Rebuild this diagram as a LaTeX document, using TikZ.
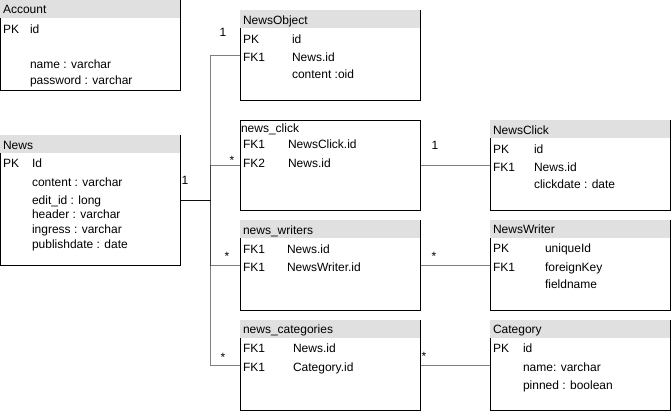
\documentclass[tikz,border=0pt]{standalone}
\usepackage{fontspec}
\setmainfont{Liberation Sans}
\usetikzlibrary{calc}
\definecolor{hdrgray}{HTML}{E0E0E0}
\newcommand\erbox[4]{%
  \node[tbl, minimum height=#4*0.75pt] (#1) at (#2,#3) {};
  \fill[hdrgray] (#1.north west) rectangle ($(#1.north east)+(0,18)$);
  \draw[edge] ($(#1.north west)+(0,18)$) -- (#1.south west) -- (#1.south east) -- (#1.north east);
}
\begin{document}
\begin{tikzpicture}[x=0.75pt,y=-0.75pt,
  every node/.style={font=\fontsize{9}{11}\selectfont, inner sep=0pt, outer sep=0pt},
  tbl/.style={anchor=north west, minimum width=135pt},
  edge/.style={draw=black, line width=0.75pt, line join=miter},
  txt/.style={anchor=base west},
  card/.style={anchor=base},
  conn/.style={draw=black, draw opacity=0.5, line width=0.75pt}]
\useasboundingbox (0,0) rectangle (671,412);
\fill[white] (0,0) rectangle (671,412);

% ---- tables ----
\erbox{Account}{0}{0}{90}
\erbox{News}{0}{135}{130}
\erbox{NewsObject}{240}{10}{90}
\node[tbl, minimum height=67.5pt, edge] (NewsClickJ) at (240,120) {};
\erbox{NewsWritersJ}{240}{220}{90}
\erbox{NewsCatJ}{240}{320}{90}
\erbox{NewsClick}{490}{120}{90}
\erbox{NewsWriter}{490}{220}{90}
\erbox{Category}{490}{320}{90}

% ---- Account ----
\node[txt] (a0) at (3,13.5) {Account};
\node[txt] (a1) at (3,33) {PK};
\node[txt] (a2) at (30,33) {id};
\node[txt] (a3) at (30,68) {name : varchar};
\node[txt] (a4) at (30,84) {password : varchar};

% ---- News ----
\node[txt] (n0) at (3,149) {News};
\node[txt] (n1) at (3,167) {PK};
\node[txt] (n2) at (32,167) {Id};
\node[txt] (n3) at (32,186) {content : varchar};
\node[txt] (n4) at (32,204) {edit\_id : long};
\node[txt] (n5) at (32,218) {header : varchar};
\node[txt] (n6) at (32,233) {ingress : varchar};
\node[txt] (n7) at (32,248) {publishdate : date};

% ---- NewsObject ----
\node[txt] (o0) at (243,24) {NewsObject};
\node[txt] (o1) at (243,43) {PK};
\node[txt] (o2) at (292,43) {id};
\node[txt] (o3) at (243,61) {FK1};
\node[txt] (o4) at (292,61) {News.id};
\node[txt] (o5) at (292,78) {content :oid};

% ---- news_click ----
\node[txt] (c0) at (241,132) {news\_click};
\node[txt] (c1) at (243,148) {FK1};
\node[txt] (c2) at (288,148) {NewsClick.id};
\node[txt] (c3) at (243,167) {FK2};
\node[txt] (c4) at (288,167) {News.id};

% ---- news_writers ----
\node[txt] (w0) at (243,234) {news\_writers};
\node[txt] (w1) at (243,253) {FK1};
\node[txt] (w2) at (287,253) {News.id};
\node[txt] (w3) at (243,271) {FK1};
\node[txt] (w4) at (287,271) {NewsWriter.id};

% ---- news_categories ----
\node[txt] (g0) at (243,333) {news\_categories};
\node[txt] (g1) at (243,352) {FK1};
\node[txt] (g2) at (293,352) {News.id};
\node[txt] (g3) at (243,371) {FK1};
\node[txt] (g4) at (293,371) {Category.id};

% ---- NewsClick ----
\node[txt] (k0) at (493,134) {NewsClick};
\node[txt] (k1) at (493,153) {PK};
\node[txt] (k2) at (534,153) {id};
\node[txt] (k3) at (493,171) {FK1};
\node[txt] (k4) at (534,171) {News.id};
\node[txt] (k5) at (534,188) {clickdate : date};

% ---- NewsWriter ----
\node[txt] (r0) at (493,233) {NewsWriter};
\node[txt] (r1) at (493,252) {PK};
\node[txt] (r2) at (545,252) {uniqueId};
\node[txt] (r3) at (493,271) {FK1};
\node[txt] (r4) at (545,271) {foreignKey};
\node[txt] (r5) at (545,288) {fieldname};

% ---- Category ----
\node[txt] (y0) at (493,333) {Category};
\node[txt] (y1) at (493,352) {PK};
\node[txt] (y2) at (523,352) {id};
\node[txt] (y3) at (523,371) {name: varchar};
\node[txt] (y4) at (523,389) {pinned : boolean};

% ---- connectors ----
\coordinate (hub) at (210,200);
\draw[conn] (News.east) -- (hub) |- (NewsObject.west);
\draw[conn] (News.east) -- (hub) |- (NewsClickJ.west);
\draw[conn] (News.east) -- (hub) |- (NewsWritersJ.west);
\draw[conn] (News.east) -- (hub) |- (NewsCatJ.west);
\draw[conn] (NewsClickJ.east) -- (NewsClick.west);
\draw[conn] (NewsWritersJ.east) -- (NewsWriter.west);
\draw[conn] (NewsCatJ.east) -- (Category.west);

% ---- multiplicities ----
\node[card] (m1) at (223,36.3) {1};
\node[card] (m2) at (185,184.5) {1};
\node[card] (m3) at (232,164) {*};
\node[card] (m4) at (227,260) {*};
\node[card] (m5) at (223,361) {*};
\node[card] (m6) at (435,149.5) {1};
\node[card] (m7) at (434,260) {*};
\node[card] (m8) at (424,360) {*};
\end{tikzpicture}
\end{document}
